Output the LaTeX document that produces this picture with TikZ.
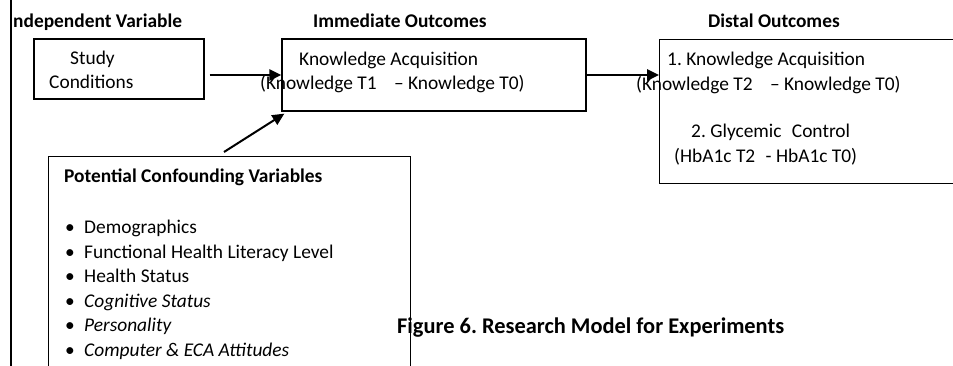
\documentclass[tikz,border=0pt]{standalone}
\usepackage{fontspec}
\setmainfont{Carlito}
\usetikzlibrary{arrows.meta}
\frenchspacing
\begin{document}
\begin{tikzpicture}[x=1pt,y=1pt,
  box/.style={draw, line width=1.3pt, rectangle, inner sep=0pt},
  txt/.style={anchor=base west, inner sep=0pt, font=\fontsize{19.4}{23}\selectfont},
  head/.style={anchor=base west, inner sep=0pt, font=\fontsize{19.4}{23}\selectfont\bfseries},
  titletxt/.style={anchor=base west, inner sep=0pt, font=\fontsize{22.4}{26}\selectfont\bfseries},
  itxt/.style={txt, font=\fontsize{19.4}{23}\selectfont\itshape},
  bul/.style={anchor=base, inner sep=0pt, font=\fontsize{19.4}{23}\selectfont},
  arr/.style={line width=2.6pt, -{Triangle[length=12pt,width=11pt]}},
  thinarr/.style={line width=2pt, -{Triangle[length=12pt,width=11pt]}},
  rule/.style={line width=2pt}]
\useasboundingbox (0,0) rectangle (953,366);
\begin{scope}
\clip (0,0) rectangle (953,366);

% boxes
\node[box, minimum width=170pt, minimum height=60pt] (study) at (119,297) {};
\node[box, minimum width=304pt, minimum height=72pt] (imm) at (434,291) {};
\node[box, minimum width=301pt, minimum height=144pt, anchor=north west] (dist) at (659,327) {};
\node[box, minimum width=362pt, minimum height=214pt, anchor=north west] (conf) at (48,210) {};

% left margin rule
\coordinate (rtop) at (11,366);
\coordinate (rbot) at (11,0);
\draw[rule] (rtop) -- (rbot);

% column headings
\begin{scope}
\clip (11,0) rectangle (953,366);
\node[head] (hindep) at (7.8,338) {Independent Variable};
\end{scope}
\node[head] (himm) at (313,338) {Immediate Outcomes};
\node[head] (hdist) at (708,338) {Distal Outcomes};

% study conditions
\node[txt] (s1) at (70,301) {Study};
\node[txt] (s2) at (49,277) {Conditions};

% immediate outcome
\node[txt] (i1) at (299,300) {Knowledge Acquisition};
\node[txt] (i2) at (260,276) {(Knowledge T1\hspace{13pt} – Knowledge T0)};

% distal outcomes
\node[txt] (d1) at (667,300) {1. Knowledge Acquisition};
\node[txt] (d2) at (636,275) {(Knowledge T2\hspace{13pt} – Knowledge T0)};
\node[txt] (d3) at (691,228) {2. Glycemic\hspace{6pt} Control};
\node[txt] (d4) at (674,203) {(HbA1c T2\hspace{6pt} - HbA1c T0)};

% confounders
\node[head] (chead) at (64,183) {Potential Confounding Variables};
\node[bul] (b1) at (70,132) {•};
\node[txt] (c1) at (84,132) {Demographics};
\node[bul] (b2) at (70,107.5) {•};
\node[txt] (c2) at (84,107.5) {Functional Health Literacy Level};
\node[bul] (b3) at (70,83) {•};
\node[txt] (c3) at (84,83) {Health Status};
\node[bul] (b4) at (70,58.5) {•};
\node[itxt] (c4) at (84,58.5) {Cognitive Status};
\node[bul] (b5) at (70,34) {•};
\node[itxt] (c5) at (84,34) {Personality};
\node[bul] (b6) at (70,9.4) {•};
\node[itxt] (c6) at (84,9.4) {Computer \& ECA Attitudes};

% caption
\node[titletxt] (caption) at (397,32) {Figure 6. Research Model for Experiments};

% connectors
\draw[arr] ([xshift=5pt]study.east |- imm.west) -- (imm.west);
\draw[arr] (imm.east) -- (dist.west |- imm.east);
\coordinate (cstart) at (224,214);
\draw[thinarr] (cstart) -- ([shift={(3pt,-2pt)}]imm.south west);
\end{scope}
\end{tikzpicture}
\end{document}
